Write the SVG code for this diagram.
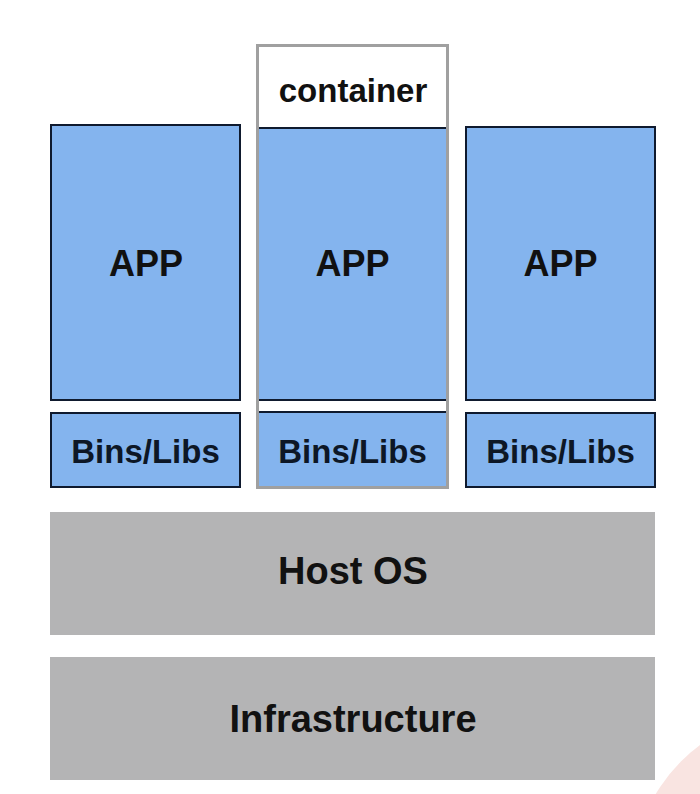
<svg xmlns="http://www.w3.org/2000/svg" width="700" height="794" viewBox="0 0 700 794">
<style>
.blue{fill:#84b4ee;stroke:#0f1a2e;stroke-width:2}
.grey{fill:#b4b4b5}
.t{font-family:"Liberation Sans",Arial,sans-serif;font-weight:bold;text-anchor:middle;fill:#111}
.app{font-size:36px}
.bins{font-size:33px;fill:#0d1726}
.layer{font-size:38px}
</style>
<rect width="700" height="794" fill="#ffffff"/>
<circle cx="800" cy="880" r="168" fill="#f9e4e1"/>
<g id="app-left">
<rect class="blue" x="51" y="125" width="189" height="275"/>
<text class="t app" x="146" y="276">APP</text>
</g>
<g id="bins-left">
<rect class="blue" x="51" y="413" width="189" height="74"/>
<text class="t bins" x="145.5" y="463">Bins/Libs</text>
</g>
<g id="container">
<rect x="257.5" y="45.5" width="190" height="442" fill="#ffffff" stroke="#a0a0a0" stroke-width="3"/>
<text class="t" style="font-size:33px" x="353" y="102">container</text>
</g>
<g id="app-middle">
<rect x="259" y="128" width="187" height="272" fill="#84b4ee"/>
<line x1="259" y1="128" x2="446" y2="128" stroke="#0f1a2e" stroke-width="2"/>
<line x1="259" y1="400" x2="446" y2="400" stroke="#0f1a2e" stroke-width="2"/>
<text class="t app" x="352.5" y="276">APP</text>
</g>
<g id="bins-middle">
<rect x="259" y="412" width="187" height="74" fill="#84b4ee"/>
<line x1="259" y1="412" x2="446" y2="412" stroke="#0f1a2e" stroke-width="2"/>
<text class="t bins" x="352.5" y="463">Bins/Libs</text>
</g>
<g id="app-right">
<rect class="blue" x="466" y="127" width="189" height="273"/>
<text class="t app" x="560.5" y="276">APP</text>
</g>
<g id="bins-right">
<rect class="blue" x="466" y="413" width="189" height="74"/>
<text class="t bins" x="560.5" y="463">Bins/Libs</text>
</g>
<g id="host-os">
<rect class="grey" x="50" y="512" width="605" height="123"/>
<text class="t layer" x="353" y="584">Host OS</text>
</g>
<g id="infrastructure">
<rect class="grey" x="50" y="657" width="605" height="123"/>
<text class="t layer" x="353" y="732">Infrastructure</text>
</g>
<g id="connectors"/>
</svg>
